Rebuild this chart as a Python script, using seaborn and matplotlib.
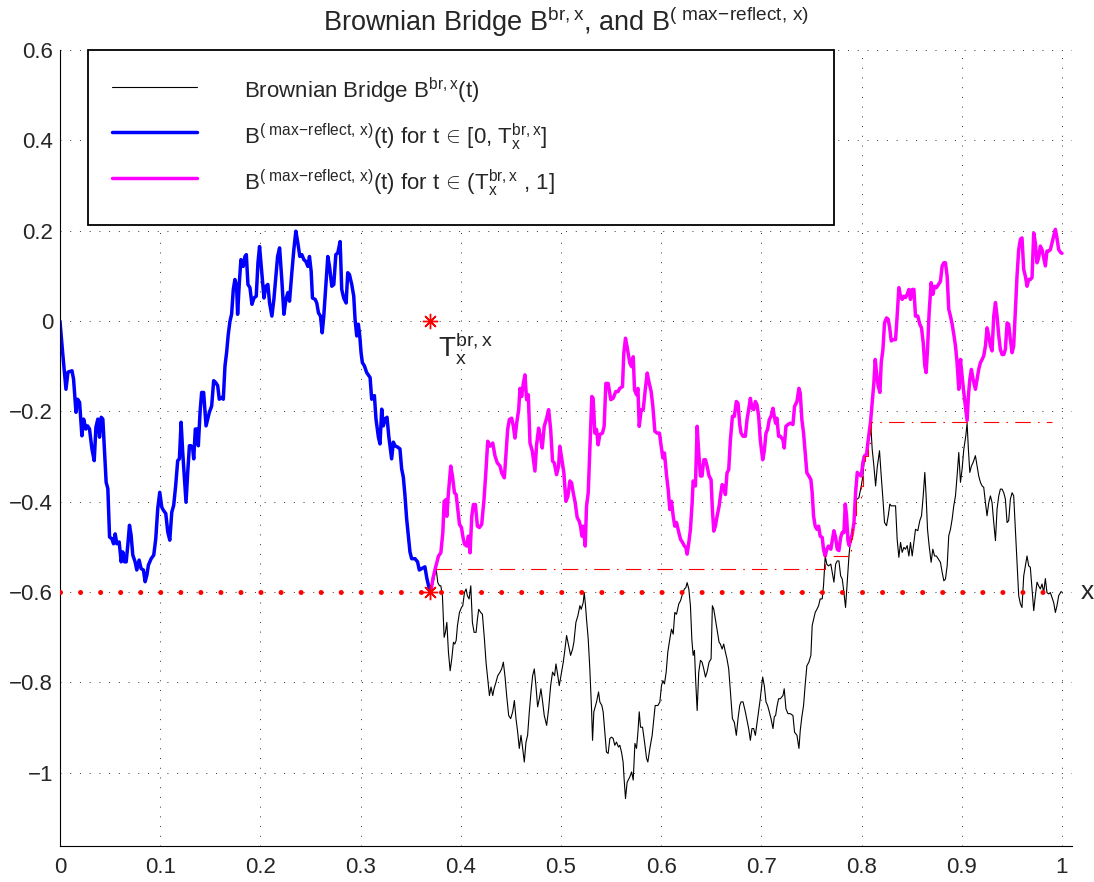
import numpy as np
import matplotlib
matplotlib.use("Agg")
import matplotlib.pyplot as plt
from matplotlib.ticker import FuncFormatter, MultipleLocator
import seaborn as sns

# reflected path before T_x (same as the bridge there)
blue_t = [0, .0027, .006, .008, .012, .0136, .016, .0176, .0196, .0219, .0236, .0259, .0276, .0295, .0319,
          .0342, .0359, .0378, .0395, .0412, .0428, .0445, .0461, .0478, .0495, .0518, .0535, .0551, .0568,
          .0591, .0611, .0627, .0644, .0661, .0677, .0694, .0710, .0727, .0750, .0767, .0790, .0810, .0833,
          .0850, .0867, .0883, .0910, .0936, .0956, .0976, .0996, .1016, .1033, .1056, .1076, .1096, .1116,
          .1135, .1155, .1175, .1192, .1209, .1225, .1242, .1258, .1275, .1292, .1308, .1325, .1335, .1351,
          .1371, .1381, .1398, .1414, .1434, .1448, .1458, .1474, .1491, .1514, .1534, .1554, .1574, .1590,
          .1614, .1630, .1647, .1663, .1680, .1697, .1713, .1730, .1746, .1763, .1773, .1790, .1806, .1829,
          .1846, .1860, .1876, .1896, .1916, .1936, .1959, .1976, .1992, .2016, .2036, .2055, .2075, .2092,
          .2115, .2135, .2155, .2172, .2192, .2215, .2235, .2255, .2275, .2291, .2314, .2334, .2354, .2374,
          .2394, .2414, .2434, .2454, .2474, .2490, .2507, .2520, .2547, .2563, .2580, .2600, .2617, .2633,
          .2653, .2673, .2690, .2713, .2733, .2753, .2773, .2796, .2812, .2832, .2856, .2872, .2889, .2912,
          .2932, .2945, .2962, .2978, .2992, .3005, .3018, .3038, .3061, .3095, .3111, .3138, .3154, .3178,
          .3194, .3211, .3227, .3244, .3264, .3281, .3297, .3310, .3327, .3344, .3370, .3393, .3410, .3427,
          .3443, .3460, .3476, .3493, .3510, .3543, .3569, .3586, .3609, .3642, .3662, .3692]
blue_v = [0, -.070, -.151, -.113, -.110, -.129, -.202, -.173, -.180, -.254, -.217, -.239, -.232, -.239, -.283,
          -.309, -.235, -.217, -.257, -.213, -.217, -.290, -.357, -.371, -.478, -.482, -.493, -.471, -.493,
          -.489, -.533, -.511, -.533, -.533, -.496, -.452, -.474, -.518, -.533, -.551, -.529, -.548, -.551,
          -.577, -.563, -.540, -.526, -.518, -.482, -.415, -.379, -.412, -.419, -.426, -.467, -.485, -.423,
          -.408, -.364, -.309, -.305, -.224, -.290, -.349, -.401, -.335, -.276, -.276, -.283, -.305, -.239,
          -.239, -.276, -.202, -.158, -.158, -.202, -.232, -.217, -.202, -.188, -.132, -.136, -.143, -.173,
          -.169, -.173, -.099, -.070, -.029, 0, .015, .070, .092, .077, .015, .085, .136, .121,
          .143, .147, .081, .074, .037, .051, .055, .129, .165, .103, .051, .077, .081, .040,
          .011, .048, .099, .143, .162, .088, .015, .048, .063, .044, .107, .158, .199, .173,
          .143, .147, .136, .132, .121, .143, .110, .051, .048, .040, .018, .011, -.026, .011,
          .077, .143, .121, .077, .081, .147, .151, .176, .070, .051, .040, .107, .103, .081,
          .055, .004, -.033, -.007, -.033, -.070, -.092, -.099, -.114, -.125, -.173, -.165, -.217, -.257,
          -.272, -.195, -.232, -.217, -.213, -.254, -.283, -.305, -.268, -.276, -.279, -.283, -.327, -.346,
          -.386, -.438, -.474, -.511, -.526, -.526, -.533, -.551, -.548, -.544, -.570, -.598]

# Brownian bridge after T_x
black_t = [.3701, .3728, .3754, .3771, .3788, .3801, .3817, .3834, .3847, .3861, .3877, .3894, .3910, .3927,
           .3940, .3954, .3967, .3987, .4007, .4020, .4037, .4053, .4066, .4083, .4100, .4116, .4133, .4153,
           .4166, .4179, .4199, .4216, .4236, .4252, .4269, .4286, .4302, .4319, .4332, .4352, .4369, .4392,
           .4408, .4425, .4442, .4458, .4478, .4498, .4518, .4535, .4551, .4568, .4584, .4601, .4618, .4634,
           .4651, .4667, .4684, .4701, .4717, .4734, .4750, .4767, .4784, .4800, .4817, .4833, .4857, .4877,
           .4897, .4916, .4936, .4950, .4963, .4983, .5006, .5023, .5036, .5056, .5076, .5096, .5116, .5129,
           .5149, .5169, .5189, .5202, .5222, .5232, .5245, .5255, .5272, .5288, .5305, .5315, .5328, .5355,
           .5375, .5388, .5408, .5421, .5438, .5454, .5471, .5488, .5504, .5521, .5537, .5554, .5574, .5587,
           .5604, .5620, .5630, .5644, .5660, .5687, .5705, .5721, .5738, .5754, .5768, .5781, .5794, .5814,
           .5834, .5854, .5867, .5887, .5910, .5927, .5940, .5967, .5987, .6003, .6017, .6033, .6050, .6066,
           .6086, .6103, .6120, .6136, .6153, .6176, .6193, .6213, .6232, .6246, .6259, .6276, .6292, .6306,
           .6319, .6332, .6345, .6359, .6375, .6392, .6408, .6425, .6442, .6458, .6478, .6498, .6511, .6525,
           .6541, .6558, .6578, .6591, .6608, .6624, .6641, .6657, .6674, .6691, .6711, .6730, .6750, .6767,
           .6784, .6797, .6817, .6840, .6857, .6873, .6890, .6906, .6923, .6940, .6956, .6973, .6989, .7013,
           .7029, .7046, .7062, .7079, .7096, .7116, .7129, .7142, .7155, .7172, .7189, .7215, .7228, .7245,
           .7265, .7288, .7315, .7331, .7355, .7375, .7388, .7404, .7421, .7438, .7454, .7474, .7494, .7507,
           .7521, .7537, .7554, .7571, .7587, .7607, .7620, .7637, .7653, .7670, .7693, .7724, .7741, .7757,
           .7774, .7791, .7807, .7824, .7840, .7857, .7874, .7890, .7907, .7924, .7940, .7957, .7973, .7997,
           .8013, .8030, .8050, .8063, .8080, .8090, .8106, .8123, .8140, .8156, .8179, .8196, .8213, .8229,
           .8249, .8266, .8282, .8296, .8316, .8339, .8355, .8372, .8389, .8405, .8422, .8438, .8455, .8472,
           .8488, .8505, .8522, .8538, .8561, .8581, .8598, .8615, .8631, .8644, .8658, .8674, .8694, .8711,
           .8728, .8747, .8767, .8787, .8804, .8821, .8837, .8854, .8870, .8887, .8904, .8920, .8937, .8953,
           .8970, .8987, .9003, .9020, .9040, .9053, .9066, .9080, .9096, .9113, .9136, .9153, .9169, .9186,
           .9203, .9219, .9236, .9252, .9269, .9286, .9302, .9319, .9336, .9352, .9369, .9385, .9402, .9419,
           .9435, .9452, .9468, .9485, .9502, .9518, .9535, .9551, .9568, .9585, .9601, .9618, .9635, .9651,
           .9668, .9684, .9701, .9718, .9734, .9751, .9767, .9784, .9801, .9817, .9834, .9850, .9867, .9884,
           .9900, .9917, .9934, .9950, .9967, .9990, 1.0]
black_v = [-.601, -.575, -.548, -.579, -.586, -.586, -.608, -.700, -.689, -.667, -.733, -.774, -.748, -.711,
           -.715, -.707, -.674, -.645, -.634, -.630, -.601, -.593, -.608, -.615, -.586, -.667, -.689, -.689,
           -.660, -.638, -.645, -.649, -.704, -.755, -.792, -.829, -.810, -.829, -.814, -.799, -.785, -.777,
           -.770, -.755, -.788, -.829, -.873, -.880, -.865, -.840, -.880, -.910, -.946, -.917, -.946, -.976,
           -.932, -.917, -.865, -.821, -.785, -.770, -.807, -.854, -.836, -.814, -.843, -.873, -.895, -.858,
           -.807, -.777, -.785, -.759, -.777, -.807, -.777, -.755, -.733, -.696, -.718, -.740, -.726, -.711,
           -.667, -.652, -.630, -.638, -.623, -.601, -.630, -.660, -.704, -.770, -.858, -.928, -.865, -.843,
           -.821, -.843, -.851, -.865, -.910, -.954, -.957, -.924, -.921, -.924, -.939, -.932, -.943, -.939,
           -.954, -.976, -1.013, -1.057, -1.021, -1.009, -.998, -1.016, -.935, -.946, -.910, -.865, -.899, -.899,
           -.932, -.968, -.976, -.946, -.917, -.880, -.851, -.851, -.843, -.807, -.796, -.803, -.777, -.733,
           -.704, -.682, -.693, -.645, -.649, -.626, -.619, -.604, -.593, -.590, -.579, -.593, -.630, -.704,
           -.740, -.729, -.799, -.862, -.777, -.751, -.755, -.770, -.788, -.777, -.755, -.748, -.630, -.638,
           -.660, -.682, -.711, -.715, -.726, -.715, -.733, -.748, -.770, -.821, -.880, -.888, -.917, -.880,
           -.851, -.843, -.843, -.865, -.884, -.902, -.928, -.902, -.902, -.917, -.891, -.865, -.836, -.788,
           -.807, -.843, -.851, -.865, -.880, -.902, -.876, -.873, -.854, -.836, -.836, -.829, -.814, -.858,
           -.869, -.869, -.873, -.910, -.917, -.946, -.906, -.876, -.851, -.803, -.763, -.755, -.740, -.674,
           -.660, -.645, -.638, -.630, -.615, -.615, -.586, -.521, -.538, -.542, -.538, -.578, -.538, -.531,
           -.531, -.564, -.571, -.601, -.634, -.578, -.520, -.483, -.461, -.446, -.394, -.394, -.391, -.365,
           -.343, -.298, -.295, -.269, -.240, -.223, -.284, -.321, -.365, -.324, -.287, -.343, -.394, -.446,
           -.453, -.431, -.405, -.409, -.409, -.409, -.483, -.523, -.490, -.512, -.501, -.505, -.497, -.520,
           -.490, -.520, -.490, -.461, -.464, -.442, -.431, -.387, -.335, -.387, -.461, -.497, -.534, -.505,
           -.520, -.520, -.527, -.534, -.556, -.575, -.571, -.542, -.475, -.461, -.438, -.409, -.387, -.343,
           -.291, -.357, -.328, -.284, -.254, -.226, -.284, -.335, -.321, -.313, -.298, -.321, -.343, -.357,
           -.365, -.368, -.402, -.431, -.402, -.387, -.402, -.446, -.486, -.416, -.387, -.372, -.372, -.380,
           -.394, -.446, -.442, -.394, -.380, -.387, -.461, -.534, -.608, -.626, -.634, -.564, -.542, -.520,
           -.542, -.545, -.593, -.641, -.608, -.578, -.586, -.593, -.582, -.601, -.570, -.601, -.604, -.601,
           -.612, -.623, -.645, -.630, -.608, -.599, -.600]

# max-reflected path after T_x
mag_t = [.3701, .3721, .3744, .3778, .3801, .3821, .3834, .3854, .3861, .3877, .3900, .3917, .3937, .3954,
         .3967, .3987, .4007, .4020, .4037, .4060, .4076, .4093, .4110, .4126, .4146, .4166, .4186, .4209,
         .4232, .4252, .4269, .4292, .4319, .4342, .4365, .4392, .4408, .4435, .4452, .4468, .4485, .4508,
         .4525, .4541, .4558, .4578, .4591, .4608, .4624, .4641, .4657, .4674, .4691, .4714, .4740, .4757,
         .4777, .4797, .4813, .4833, .4857, .4877, .4897, .4916, .4933, .4956, .4976, .4989, .5009, .5029,
         .5049, .5069, .5089, .5106, .5122, .5142, .5162, .5182, .5195, .5209, .5222, .5242, .5255, .5272,
         .5288, .5308, .5321, .5338, .5355, .5371, .5388, .5414, .5431, .5448, .5471, .5497, .5521, .5547,
         .5570, .5587, .5614, .5627, .5644, .5660, .5687, .5705, .5721, .5734, .5754, .5768, .5781, .5801,
         .5821, .5841, .5861, .5877, .5900, .5917, .5937, .5960, .5983, .6000, .6017, .6033, .6053, .6070,
         .6086, .6103, .6120, .6136, .6153, .6176, .6193, .6213, .6232, .6246, .6259, .6276, .6292, .6309,
         .6319, .6342, .6359, .6375, .6392, .6408, .6425, .6442, .6458, .6478, .6498, .6511, .6525, .6541,
         .6558, .6578, .6591, .6608, .6624, .6641, .6657, .6674, .6691, .6711, .6730, .6750, .6767, .6784,
         .6797, .6817, .6840, .6857, .6873, .6890, .6906, .6923, .6940, .6956, .6973, .6989, .7013, .7029,
         .7046, .7062, .7079, .7096, .7116, .7129, .7142, .7155, .7172, .7189, .7215, .7228, .7245, .7265,
         .7288, .7315, .7331, .7355, .7375, .7388, .7404, .7421, .7438, .7454, .7474, .7494, .7507, .7521,
         .7537, .7554, .7571, .7587, .7607, .7620, .7637, .7653, .7670, .7693, .7724, .7741, .7757, .7774,
         .7791, .7807, .7824, .7837, .7850, .7864, .7877, .7890, .7907, .7924, .7940, .7957, .7973, .7997,
         .8013, .8030, .8050, .8063, .8080, .8090, .8106, .8123, .8136, .8149, .8166, .8183, .8196, .8213,
         .8229, .8249, .8266, .8282, .8296, .8316, .8339, .8355, .8372, .8389, .8405, .8422, .8438, .8455,
         .8472, .8488, .8505, .8522, .8538, .8561, .8581, .8598, .8615, .8631, .8644, .8658, .8674, .8694,
         .8711, .8728, .8747, .8767, .8787, .8804, .8821, .8837, .8854, .8870, .8887, .8904, .8920, .8937,
         .8953, .8970, .8987, .9003, .9020, .9040, .9053, .9066, .9080, .9096, .9113, .9136, .9153, .9169,
         .9186, .9203, .9219, .9236, .9252, .9269, .9286, .9302, .9319, .9336, .9352, .9369, .9385, .9402,
         .9419, .9435, .9452, .9468, .9485, .9502, .9518, .9535, .9551, .9568, .9585, .9601, .9618, .9635,
         .9651, .9668, .9684, .9701, .9718, .9734, .9751, .9767, .9784, .9801, .9817, .9834, .9850, .9867,
         .9884, .9900, .9917, .9934, .9950, .9967, .9990, 1.0]
mag_v = [-.601, -.571, -.549, -.520, -.513, -.468, -.399, -.395, -.432, -.380, -.321, -.343, -.380, -.384,
         -.410, -.450, -.457, -.476, -.494, -.498, -.476, -.513, -.432, -.406, -.406, -.454, -.457, -.450,
         -.395, -.329, -.266, -.277, -.270, -.299, -.314, -.321, -.336, -.347, -.292, -.240, -.218, -.215,
         -.233, -.259, -.226, -.196, -.149, -.167, -.138, -.119, -.174, -.163, -.270, -.288, -.332, -.274,
         -.237, -.259, -.281, -.233, -.215, -.196, -.240, -.310, -.314, -.340, -.321, -.277, -.307, -.336,
         -.399, -.388, -.354, -.358, -.380, -.402, -.435, -.443, -.454, -.476, -.454, -.498, -.410, -.380,
         -.285, -.167, -.171, -.248, -.240, -.274, -.251, -.248, -.233, -.138, -.138, -.174, -.171, -.156,
         -.156, -.149, -.145, -.071, -.038, -.057, -.093, -.101, -.079, -.152, -.163, -.149, -.233, -.196,
         -.196, -.152, -.115, -.134, -.156, -.189, -.244, -.248, -.248, -.277, -.303, -.292, -.340, -.373,
         -.417, -.399, -.432, -.454, -.446, -.468, -.483, -.490, -.498, -.501, -.516, -.490, -.461, -.402,
         -.354, -.365, -.233, -.292, -.343, -.343, -.307, -.307, -.321, -.343, -.351, -.417, -.465, -.454,
         -.432, -.410, -.388, -.362, -.365, -.384, -.336, -.329, -.263, -.211, -.211, -.178, -.182, -.229,
         -.248, -.255, -.255, -.218, -.196, -.171, -.193, -.196, -.178, -.185, -.211, -.263, -.307, -.288,
         -.248, -.240, -.218, -.211, -.193, -.211, -.226, -.215, -.255, -.255, -.263, -.281, -.233, -.229,
         -.226, -.229, -.189, -.178, -.149, -.160, -.218, -.248, -.292, -.336, -.343, -.351, -.380, -.432,
         -.454, -.461, -.454, -.476, -.479, -.505, -.520, -.505, -.498, -.505, -.464, -.479, -.505, -.508,
         -.479, -.468, -.468, -.405, -.431, -.486, -.497, -.483, -.472, -.446, -.380, -.335, -.339, -.343,
         -.313, -.298, -.295, -.269, -.240, -.222, -.181, -.136, -.085, -.114, -.144, -.158, -.092, -.063,
         -.004, .007, .004, -.018, -.044, -.041, -.041, .011, .074, .055, .048, .055, .052, .059,
         .070, .048, .070, .070, .011, .011, -.007, -.015, -.048, -.099, -.114, -.063, .018, .085,
         .059, .077, .074, .081, .088, .122, .129, .129, .099, .026, .011, -.007, -.029, -.055,
         -.092, -.151, -.085, -.122, -.158, -.195, -.220, -.166, -.129, -.107, -.129, -.151, -.129, -.107,
         -.092, -.085, -.077, -.055, -.015, -.033, -.055, -.066, .011, .041, .011, -.033, -.063, -.074,
         -.074, -.063, -.004, -.007, -.041, -.070, -.055, .026, .099, .158, .181, .184, .114, .099,
         .077, .092, .092, .096, .195, .173, .129, .140, .166, .158, .140, .122, .155, .155,
         .158, .173, .188, .203, .184, .158, .151, .150]

# running maximum of the bridge after T_x (red dash-dot)
rmax_t = [.3754, .7637, .7874, .7890, .7907, .7924, .7940, .7997, .8013, .8030, .8063, .8080, .8090, .9900]
rmax_v = [-.548, -.521, -.520, -.483, -.461, -.446, -.394, -.365, -.343, -.298, -.269, -.240, -.223, -.223]

T_x = 0.3695
x_level = -0.6

sns.set_style("white")
plt.rcParams['font.family'] = ['Liberation Sans', 'DejaVu Sans']
plt.rcParams['mathtext.fontset'] = 'custom'
plt.rcParams['mathtext.rm'] = 'Liberation Sans'
plt.rcParams['mathtext.it'] = 'Liberation Sans:italic'
plt.rcParams['mathtext.bf'] = 'Liberation Sans:bold'

fig = plt.figure(figsize=(10.94, 8.82), dpi=100)
ax = fig.add_axes([0.0548, 0.0408, 0.9251, 0.9025])

ref = r'\mathrm{(\ max\!-\!reflect,\,x)}'
lab_black = r'Brownian Bridge B$^{\mathrm{br,x}}$(t)'
lab_blue = r'B$^{' + ref + r'}$(t) for t$\,\in\,$[0, T$_{\mathrm{x}}^{\mathrm{br,x}}$]'
lab_mag = r'B$^{' + ref + r'}$(t) for t$\,\in\,$(T$_{\mathrm{x}}^{\mathrm{br,x}}$ , 1]'

sns.lineplot(x=black_t, y=black_v, ax=ax, color='black', lw=0.8, estimator=None, label=lab_black)
sns.lineplot(x=blue_t, y=blue_v, ax=ax, color='#0000ff', lw=2.5, estimator=None, label=lab_blue)
sns.lineplot(x=mag_t, y=mag_v, ax=ax, color='#ff00ff', lw=2.5, estimator=None, label=lab_mag)

# level x and running max
ax.axhline(x_level, xmin=0, xmax=1 / 1.01, color='red', lw=3.6, linestyle=(0, (0.01, 4)),
           dash_capstyle='round', zorder=4)
ax.plot(rmax_t, rmax_v, color='red', lw=0.8, drawstyle='steps-post',
        linestyle=(0, (14, 6.5, 1.4, 6.5)), zorder=4)
ax.plot([T_x, T_x], [x_level, 0], linestyle='none', marker=(8, 2, 0), ms=11, mew=1,
        color='red', zorder=5)

ax.text(0.377, -0.078, r'T$_{\mathrm{x}}^{\mathrm{br,x}}$', fontsize=20, ha='left', va='baseline')
ax.text(1.019, x_level, 'x', fontsize=19, ha='left', va='center', clip_on=False)

ax.set_xlim(0, 1.01)
ax.set_ylim(-1.162, 0.6)
ax.xaxis.set_major_locator(MultipleLocator(0.1))
ax.yaxis.set_major_locator(MultipleLocator(0.2))
fmt = FuncFormatter(lambda v, p: f'{v:.1f}'.rstrip('0').rstrip('.').replace('-', '\u2212')
                    if abs(v) > 1e-9 else '0')
ax.xaxis.set_major_formatter(fmt)
ax.yaxis.set_major_formatter(fmt)
ax.tick_params(direction='in', length=7.5, width=0.8, labelsize=16, color='k')
ax.tick_params(axis='y', pad=5)
ax.tick_params(axis='x', pad=8)
ax.grid(True, color='#333333', lw=0.7, linestyle=(0, (1, 9)))
for s in ['top', 'right']:
    ax.spines[s].set_visible(False)
for s in ['left', 'bottom']:
    ax.spines[s].set_color('k')
    ax.spines[s].set_linewidth(0.8)

ax.set_title(r'Brownian Bridge B$^{\mathrm{br,x}}$, and B$^{' + ref + r'}$', fontsize=19.5, pad=14)

leg = ax.legend(loc='upper left', bbox_to_anchor=(0.0277, 0.786, 0.737, 0.214), mode='expand',
                borderaxespad=0, fontsize=16, handlelength=3.8, handletextpad=2.1, handleheight=2.0,
                labelspacing=0.52, borderpad=1.1, fancybox=False, framealpha=1, edgecolor='black')
leg.get_frame().set_linewidth(1.3)

fig.savefig('out.png', dpi=100)
